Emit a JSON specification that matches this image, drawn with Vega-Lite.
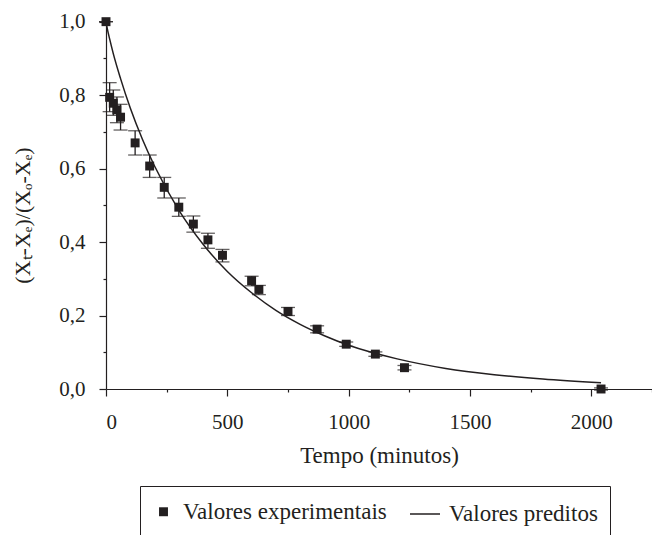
{
  "$schema": "https://vega.github.io/schema/vega-lite/v6.json",
  "width": 546,
  "height": 371,
  "autosize": {"type": "none"},
  "padding": {"left": 106, "top": 18, "right": 0, "bottom": 146},
  "background": "white",
  "config": {
    "view": {"stroke": null},
    "font": "Liberation Serif",
    "axis": {
      "labelFont": "Liberation Serif",
      "titleFont": "Liberation Serif",
      "labelFontSize": 21,
      "titleFontSize": 23,
      "titleFontWeight": "normal",
      "labelColor": "#231f20",
      "titleColor": "#231f20",
      "domainColor": "#231f20",
      "tickColor": "#231f20",
      "domainWidth": 1.2,
      "tickWidth": 1.2,
      "grid": false
    },
    "legend": {
      "labelFont": "Liberation Serif",
      "labelFontSize": 23,
      "labelColor": "#231f20",
      "labelLimit": 400
    }
  },
  "datasets": {
    "exp": [
      {"t": 0, "v": 1.0, "lo": 1.0, "hi": 1.0, "series": "Valores experimentais"},
      {"t": 15, "v": 0.794, "lo": 0.755, "hi": 0.834, "series": "Valores experimentais"},
      {"t": 30, "v": 0.778, "lo": 0.745, "hi": 0.814, "series": "Valores experimentais"},
      {"t": 45, "v": 0.760, "lo": 0.725, "hi": 0.795, "series": "Valores experimentais"},
      {"t": 60, "v": 0.740, "lo": 0.705, "hi": 0.775, "series": "Valores experimentais"},
      {"t": 120, "v": 0.670, "lo": 0.637, "hi": 0.703, "series": "Valores experimentais"},
      {"t": 180, "v": 0.607, "lo": 0.576, "hi": 0.637, "series": "Valores experimentais"},
      {"t": 240, "v": 0.549, "lo": 0.520, "hi": 0.576, "series": "Valores experimentais"},
      {"t": 300, "v": 0.495, "lo": 0.470, "hi": 0.520, "series": "Valores experimentais"},
      {"t": 360, "v": 0.449, "lo": 0.427, "hi": 0.471, "series": "Valores experimentais"},
      {"t": 420, "v": 0.406, "lo": 0.383, "hi": 0.424, "series": "Valores experimentais"},
      {"t": 480, "v": 0.364, "lo": 0.346, "hi": 0.380, "series": "Valores experimentais"},
      {"t": 600, "v": 0.295, "lo": 0.281, "hi": 0.307, "series": "Valores experimentais"},
      {"t": 630, "v": 0.271, "lo": 0.257, "hi": 0.282, "series": "Valores experimentais"},
      {"t": 750, "v": 0.211, "lo": 0.200, "hi": 0.222, "series": "Valores experimentais"},
      {"t": 870, "v": 0.163, "lo": 0.153, "hi": 0.172, "series": "Valores experimentais"},
      {"t": 990, "v": 0.122, "lo": 0.116, "hi": 0.128, "series": "Valores experimentais"},
      {"t": 1110, "v": 0.095, "lo": 0.089, "hi": 0.101, "series": "Valores experimentais"},
      {"t": 1230, "v": 0.058, "lo": 0.052, "hi": 0.064, "series": "Valores experimentais"},
      {"t": 2040, "v": 0.0, "lo": -0.003, "hi": 0.003, "series": "Valores experimentais"}
    ],
    "model": [
      {"t": 0, "v": 1.0},
      {"t": 2, "v": 0.992},
      {"t": 5, "v": 0.982},
      {"t": 15, "v": 0.953},
      {"t": 30, "v": 0.913},
      {"t": 60, "v": 0.845},
      {"t": 100, "v": 0.765},
      {"t": 150, "v": 0.680},
      {"t": 200, "v": 0.607},
      {"t": 300, "v": 0.487},
      {"t": 400, "v": 0.394},
      {"t": 500, "v": 0.320},
      {"t": 600, "v": 0.262},
      {"t": 700, "v": 0.214},
      {"t": 800, "v": 0.176},
      {"t": 900, "v": 0.145},
      {"t": 1000, "v": 0.119},
      {"t": 1200, "v": 0.082},
      {"t": 1400, "v": 0.056},
      {"t": 1600, "v": 0.039},
      {"t": 1800, "v": 0.027},
      {"t": 2040, "v": 0.017}
    ]
  },
  "resolve": {"axis": {"x": "independent", "y": "independent"}},
  "layer": [
    {
      "data": {"name": "exp"},
      "mark": {"type": "rule", "color": "#231f20", "strokeWidth": 1.3},
      "encoding": {
        "x": {"field": "t", "type": "quantitative", "scale": {"domain": [0, 2250], "nice": false, "zero": false},
          "axis": {"orient": "bottom", "values": [250, 750, 1250, 1750, 2250], "labels": false, "domain": false, "tickSize": 3, "title": null}},
        "y": {"field": "lo", "type": "quantitative", "scale": {"domain": [0, 1.01], "nice": false},
          "axis": {"orient": "left", "values": [0.1, 0.3, 0.5, 0.7, 0.9], "labels": false, "domain": false, "tickSize": 3, "title": null}},
        "y2": {"field": "hi"}
      }
    },
    {
      "data": {"name": "exp"},
      "mark": {"type": "tick", "orient": "horizontal", "color": "#231f20", "size": 14, "thickness": 1.3},
      "encoding": {
        "x": {"field": "t", "type": "quantitative", "axis": null},
        "y": {"field": "lo", "type": "quantitative", "axis": null}
      }
    },
    {
      "data": {"name": "exp"},
      "mark": {"type": "tick", "orient": "horizontal", "color": "#231f20", "size": 14, "thickness": 1.3},
      "encoding": {
        "x": {"field": "t", "type": "quantitative", "axis": null},
        "y": {"field": "hi", "type": "quantitative", "axis": null}
      }
    },
    {
      "data": {"name": "model"},
      "mark": {"type": "line", "color": "#231f20", "strokeWidth": 1.5, "interpolate": "monotone"},
      "encoding": {
        "x": {"field": "t", "type": "quantitative", "axis": null},
        "y": {"field": "v", "type": "quantitative", "axis": null}
      }
    },
    {
      "data": {"name": "exp"},
      "mark": {"type": "point", "filled": true, "color": "#231f20", "opacity": 1},
      "encoding": {
        "x": {"field": "t", "type": "quantitative",
          "axis": {"orient": "bottom", "values": [0, 500, 1000, 1500, 2000], "format": "d", "tickSize": 7, "labelPadding": 15, "title": "Tempo (minutos)", "titlePadding": 12}},
        "y": {"field": "v", "type": "quantitative",
          "axis": {"orient": "left", "values": [0, 0.2, 0.4, 0.6, 0.8, 1.0], "tickSize": 7, "labelPadding": 14,
            "labelExpr": "replace(format(datum.value, '.1f'), '.', ',')",
            "title": "(Xₜ-Xₑ)/(Xₒ-Xₑ)", "titleFontSize": 22, "titlePadding": 24, "titleY": 197}},
        "shape": {"field": "series", "type": "nominal",
          "scale": {"domain": ["Valores experimentais", "Valores preditos"], "range": ["square", "M-1,-0.05L1,-0.05L1,0.05L-1,0.05Z"]},
          "legend": {"orient": "none", "legendX": 34, "legendY": 468, "direction": "horizontal", "title": null,
            "strokeColor": "#231f20", "padding": 12, "columnPadding": 20, "labelOffset": 8}},
        "size": {"field": "series", "type": "nominal",
          "scale": {"domain": ["Valores experimentais", "Valores preditos"], "range": [80, 900]},
          "legend": {"orient": "none", "legendX": 34, "legendY": 468, "direction": "horizontal", "title": null,
            "strokeColor": "#231f20", "padding": 12, "columnPadding": 20, "labelOffset": 8}}
      }
    }
  ]
}
